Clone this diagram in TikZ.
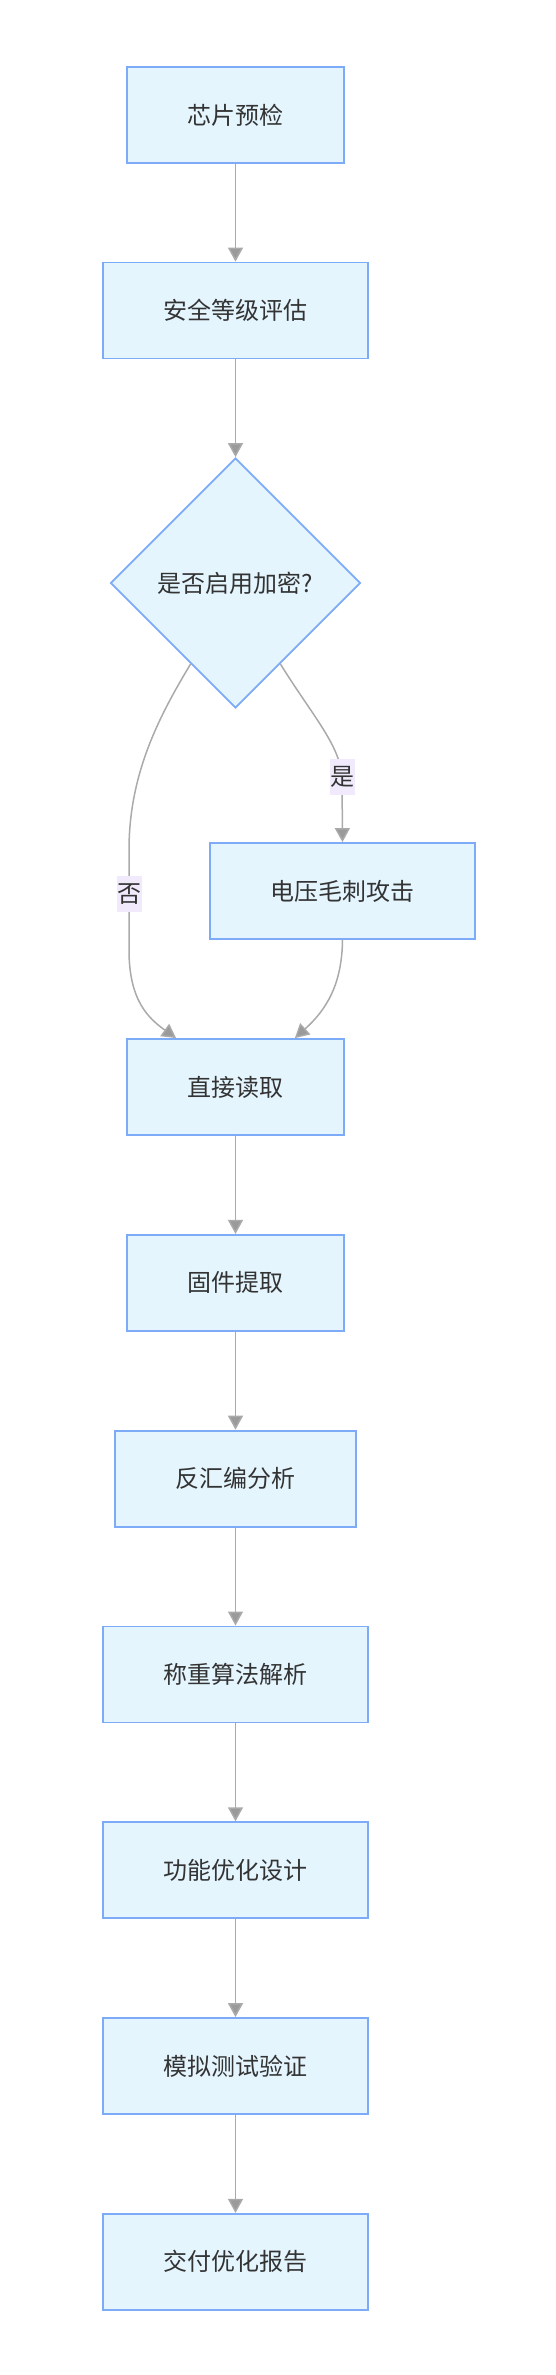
\documentclass[tikz,border=0pt]{standalone}
\usepackage{xcolor}
\usepackage{fontspec}
\setmainfont{Noto Sans CJK SC}
\usetikzlibrary{shapes.geometric,arrows.meta}

\definecolor{boxfill}{HTML}{E4F5FE}
\definecolor{boxline}{HTML}{7DABF7}
\definecolor{linegray}{HTML}{AAAAAA}
\definecolor{tipgray}{HTML}{9A9A9A}
\definecolor{labelfill}{HTML}{F1EAFD}
\definecolor{textgray}{HTML}{333333}

\begin{document}
\begin{tikzpicture}[x=1pt, y=-1pt,
    stepbox/.style={draw=boxline, fill=boxfill, line width=1.8pt, rectangle,
      minimum height=96pt, inner xsep=60.5pt, inner ysep=0pt, text=textgray,
      font=\fontsize{24}{28}\selectfont},
    choice/.style={draw=boxline, fill=boxfill, line width=1.8pt, diamond, aspect=1,
      minimum width=250pt, minimum height=250pt, inner sep=0pt, text=textgray,
      font=\fontsize{24}{28}\selectfont},
    edge/.style={draw=linegray, line width=1.5pt,
      -{Triangle[length=14pt, width=15pt, fill=tipgray]}},
    elabel/.style={fill=labelfill, text=textgray, inner xsep=0.5pt, inner ysep=0pt,
      minimum height=36pt, font=\fontsize{24}{28}\selectfont}]
         \useasboundingbox (0, 0) rectangle (556, 2375);
         % main column
         \node[stepbox] (check) at (235.5, 115) {芯片预检};
         \node[stepbox] (grade) at (235.5, 310.5) {安全等级评估};
         \node[choice] (enc) at (235.5, 583) {是否启用加密?};
         \node[stepbox] (glitch) at (342.5, 891) {电压毛刺攻击};
         \node[stepbox] (read) at (235.5, 1087) {直接读取};
         \node[stepbox] (firm) at (235.5, 1282.8) {固件提取};
         \node[stepbox] (disasm) at (235.5, 1478.6) {反汇编分析};
         \node[stepbox] (weigh) at (235.5, 1674.4) {称重算法解析};
         \node[stepbox] (func) at (235.5, 1870.2) {功能优化设计};
         \node[stepbox] (sim) at (235.5, 2066) {模拟测试验证};
         \node[stepbox] (report) at (235.5, 2261.8) {交付优化报告};
         % connectors
         \draw[edge] (check) -- (grade);
         \draw[edge] (grade) -- (enc);
         \draw[edge] (enc.299) .. controls (312, 715) and (340, 745) .. (342, 777)
            node[elabel] (yes) {是} -- (glitch.north);
         \draw[edge] (enc.241) .. controls (158, 718) and (129, 775) .. (129, 850)
            -- (129, 894) node[elabel] (no) {否} -- (129, 950)
            .. controls (129, 1000) and (148, 1018) .. ([xshift=50pt]read.north west);
         \draw[edge] (glitch.south) .. controls (342, 985) and (326, 1010) .. ([xshift=-50pt]read.north east);
         \draw[edge] (read) -- (firm);
         \draw[edge] (firm) -- (disasm);
         \draw[edge] (disasm) -- (weigh);
         \draw[edge] (weigh) -- (func);
         \draw[edge] (func) -- (sim);
         \draw[edge] (sim) -- (report);
      \end{tikzpicture}
\end{document}
